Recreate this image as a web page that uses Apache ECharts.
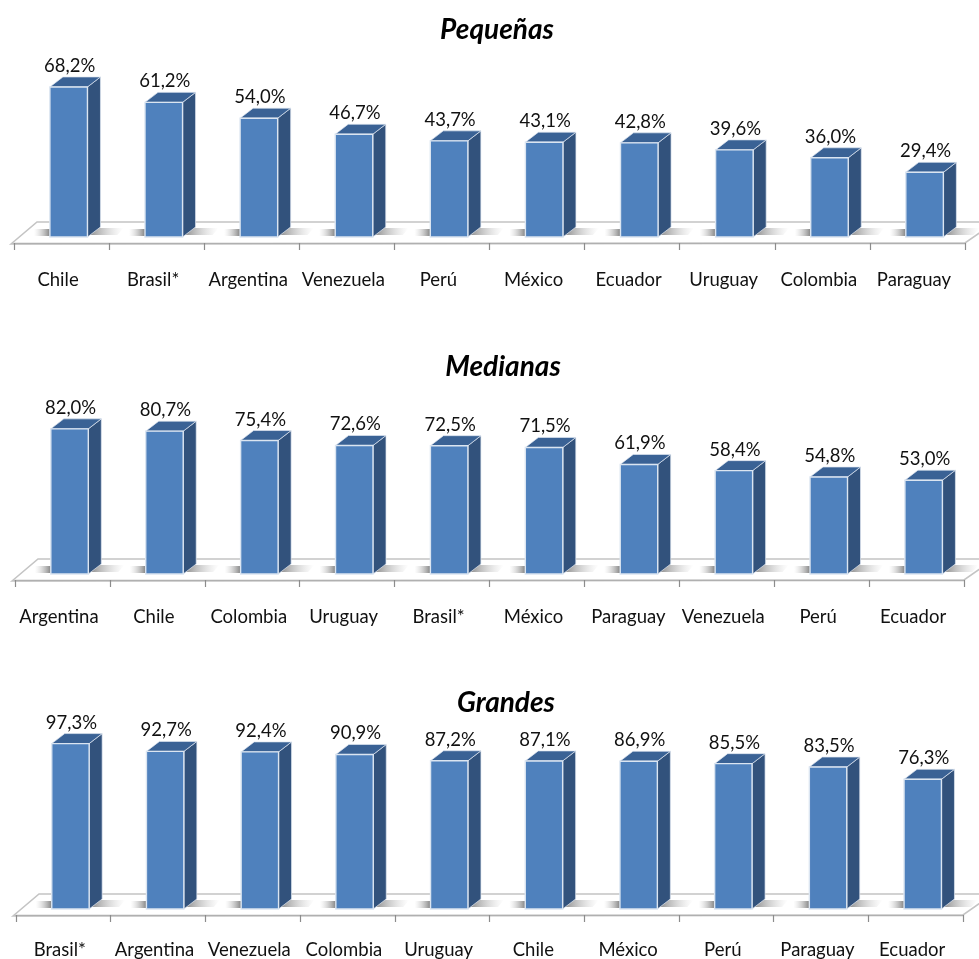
<!DOCTYPE html>
<html><head><meta charset="utf-8">
<style>html,body{margin:0;padding:0;background:#fff}#c{width:979px;height:959px}</style>
<script src="https://cdn.jsdelivr.net/npm/echarts@6/dist/echarts.min.js"></script>
</head><body><div id="c"></div>
<script>
const titles = ['Pequeñas', 'Medianas', 'Grandes'];
const catsPequenas = ['Chile','Brasil*','Argentina','Venezuela','Perú','México','Ecuador','Uruguay','Colombia','Paraguay'];
const valsPequenas = [68.2,61.2,54.0,46.7,43.7,43.1,42.8,39.6,36.0,29.4];
const catsMedianas = ['Argentina','Chile','Colombia','Uruguay','Brasil*','México','Paraguay','Venezuela','Perú','Ecuador'];
const valsMedianas = [82.0,80.7,75.4,72.6,72.5,71.5,61.9,58.4,54.8,53.0];
const catsGrandes = ['Brasil*','Argentina','Venezuela','Colombia','Uruguay','Chile','México','Perú','Paraguay','Ecuador'];
const valsGrandes = [97.3,92.7,92.4,90.9,87.2,87.1,86.9,85.5,83.5,76.3];

const panels = [
  {cats:catsPequenas, vals:valsPequenas, top:17,  h:220, left:14, w:951, margin:28, title:{x:492,y:25}},
  {cats:catsMedianas, vals:valsMedianas, top:397, h:177, left:15, w:949, margin:28, title:{x:498,y:362}},
  {cats:catsGrandes,  vals:valsGrandes,  top:739, h:170, left:16, w:947, margin:26, title:{x:501,y:698}}
];
const FONT = 'Lato';
const chart = echarts.init(document.getElementById('c'), null, {renderer:'canvas'});

function floorItem(params, api){
  const r = params.coordSys;
  const b = r.y + r.height;
  return {type:'group', children:[
    {type:'polygon', shape:{points:[[r.x-3,b+7],[r.x+23,b-15],[r.x+r.width+30,b-15],[r.x+r.width,b+6]]},
     style:{fill:'#ffffff', stroke:'#c4c4c4', lineWidth:1.6}}
  ]};
}
function shadowGrad(rev){
  return {type:'linear',x:rev?1:0,y:0,x2:rev?0:1,y2:0,
    colorStops:[{offset:0,color:'rgba(100,100,100,0.8)'},{offset:1,color:'rgba(190,190,190,0)'}]};
}
function barItem(params, api){
  const c = api.coord([api.value(0), api.value(1)]);
  const base = api.coord([api.value(0), 0]);
  const slot = api.size([1,0])[0];
  const w = slot*0.395, dx=13, dy=10;
  const cx = c[0]+slot*0.075;
  const l = cx-w/2, r = cx+w/2, t = c[1], b = base[1];
  return {type:'group', children:[
    {type:'rect', shape:{x:l-16,y:b-8,width:16,height:7}, style:{fill:shadowGrad(true)}},
    {type:'polygon', shape:{points:[[r+6,b-9],[r+36,b-9],[r+30,b-2],[r,b-2]]}, style:{fill:shadowGrad(false)}},
    {type:'polygon', shape:{points:[[r,t],[r+dx,t-dy],[r+dx,b-dy],[r,b]]}, style:{fill:'#32527c', stroke:'#dfe7f1', lineWidth:0.7}},
    {type:'polygon', shape:{points:[[l,t],[l+dx,t-dy],[r+dx,t-dy],[r,t]]}, style:{fill:'#3a6295', stroke:'#dfe7f1', lineWidth:0.7}},
    {type:'rect', shape:{x:l,y:t,width:w,height:b-t}, style:{fill:'#4f81bd', stroke:'#dbe5f1', lineWidth:1.4}},
    {type:'text', x:cx+1, y:t-21, style:{text:api.value(1).toFixed(1).replace('.',',')+'%',
      font:'18.5px '+FONT, fill:'#111', align:'center', verticalAlign:'middle'}}
  ]};
}
const option = {
  animation:false,
  backgroundColor:'#fff',
  title: panels.map((p,k)=>({text:titles[k], left:p.title.x, top:p.title.y, textAlign:'center', textVerticalAlign:'middle',
    textStyle:{fontFamily:FONT,fontStyle:'italic',fontWeight:'bold',fontSize:28,color:'#000'}})),
  grid: panels.map(p=>({left:p.left, width:p.w, top:p.top, height:p.h, containLabel:false, outerBoundsMode:'none'})),
  xAxis: panels.map((p,k)=>({type:'category', gridIndex:k, data:p.cats, offset:6, z:5,
    axisLine:{show:true,onZero:false,lineStyle:{color:'#b0b0b0',width:1.4}},
    axisTick:{show:true,length:7,alignWithLabel:false,lineStyle:{color:'#8c8c8c',width:1.2}},
    axisLabel:{interval:0,margin:p.margin,padding:[0,7,0,0],fontFamily:FONT,fontSize:18.5,color:'#111'}})),
  yAxis: panels.map((p,k)=>({type:'value', gridIndex:k, min:0, max:100, show:false})),
  series: panels.flatMap((p,k)=>[
    {type:'custom', xAxisIndex:k, yAxisIndex:k, z:1, clip:false, silent:true, renderItem:floorItem, data:[[0,0]], encode:{x:0,y:1}},
    {type:'custom', xAxisIndex:k, yAxisIndex:k, z:2, clip:false, renderItem:barItem,
      data:p.vals.map((v,i)=>[i,v]), encode:{x:0,y:1}}
  ])
};
chart.setOption(option);
</script></body></html>
